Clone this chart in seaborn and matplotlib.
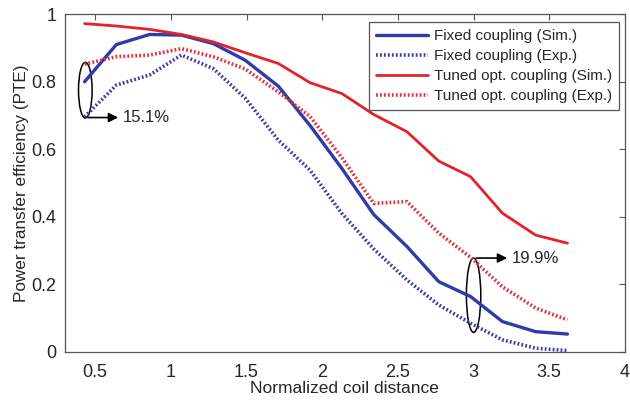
import matplotlib
matplotlib.use("Agg")
import matplotlib.pyplot as plt
from matplotlib.patches import Ellipse
import seaborn as sns
import pandas as pd

# Normalized coil distance samples
distance = [0.43, 0.64, 0.86, 1.07, 1.28, 1.49, 1.71, 1.92,
            2.13, 2.34, 2.56, 2.77, 2.98, 3.19, 3.41, 3.62]

fixed_sim = [0.800, 0.910, 0.940, 0.938, 0.913, 0.864, 0.787, 0.670,
             0.543, 0.407, 0.312, 0.208, 0.164, 0.090, 0.060, 0.053]
fixed_exp = [0.696, 0.790, 0.820, 0.879, 0.839, 0.752, 0.627, 0.538,
             0.410, 0.305, 0.213, 0.139, 0.085, 0.036, 0.011, 0.004]
tuned_sim = [0.972, 0.965, 0.955, 0.940, 0.918, 0.886, 0.854, 0.797,
             0.765, 0.703, 0.652, 0.565, 0.519, 0.411, 0.346, 0.322]
tuned_exp = [0.852, 0.874, 0.879, 0.898, 0.874, 0.838, 0.770, 0.697,
             0.575, 0.440, 0.445, 0.352, 0.280, 0.193, 0.130, 0.095]

labels = ["Fixed coupling (Sim.)", "Fixed coupling (Exp.)",
          "Tuned opt. coupling (Sim.)", "Tuned opt. coupling (Exp.)"]

x_ticks = [0.5, 1, 1.5, 2, 2.5, 3, 3.5, 4]
x_tick_labels = ["0.5", "1", "1.5", "2", "2.5", "3", "3.5", "4"]
y_ticks = [0, 0.2, 0.4, 0.6, 0.8, 1]
y_tick_labels = ["0", "0.2", "0.4", "0.6", "0.8", "1"]

sns.set_style("white")
plt.rcParams["font.family"] = ["Liberation Sans", "DejaVu Sans"]

fig = plt.figure(figsize=(6.3, 4.05), dpi=100)
ax = fig.add_axes([0.103, 0.131, 0.889, 0.834])

BLUE = "#2f3ca8"
BLUE_DOT = "#3a3ca6"
RED = "#e4222a"
RED_DOT = "#e2303a"
FINE_DOTS = (0, (0.5, 0.6))

series = [
    (fixed_sim, labels[0], BLUE, "-", 2.4),
    (fixed_exp, labels[1], BLUE_DOT, FINE_DOTS, 2.6),
    (tuned_sim, labels[2], RED, "-", 2.0),
    (tuned_exp, labels[3], RED_DOT, FINE_DOTS, 2.6),
]
for values, name, color, ls, lw in series:
    df = pd.DataFrame({"distance": distance, "pte": values})
    sns.lineplot(data=df, x="distance", y="pte", ax=ax, color=color,
                 linestyle=ls, linewidth=lw, label=name)

ax.set_xlim(0.3, 4)
ax.set_ylim(0, 1)
ax.set_xticks(x_ticks)
ax.set_xticklabels(x_tick_labels)
ax.set_yticks(y_ticks)
ax.set_yticklabels(y_tick_labels)
ax.tick_params(direction="in", length=4, width=0.8, top=True, right=True,
               labelsize=13, color="#555555")
ax.tick_params(axis="x", pad=9)
ax.tick_params(axis="y", pad=6)
ax.set_xlabel("Normalized coil distance", fontsize=12.5, labelpad=0)
ax.set_ylabel("Power transfer efficiency (PTE)", fontsize=12.3, labelpad=2)
for sp in ax.spines.values():
    sp.set_visible(True)
    sp.set_color("#555555")
    sp.set_linewidth(0.9)

leg = ax.legend(loc="upper right", fontsize=11, handlelength=3.4,
                borderpad=0.45, labelspacing=0.4, handletextpad=0.4,
                borderaxespad=0, fancybox=False, framealpha=1,
                bbox_to_anchor=(0.989, 0.976))
leg.get_frame().set_edgecolor("#555555")
leg.get_frame().set_linewidth(0.9)

# Gap markers: ellipse around the sim/exp pair and an arrow to the value
ax.add_patch(Ellipse((0.435, 0.775), 0.09, 0.165, fill=False,
                     edgecolor="black", linewidth=1.1))
ax.annotate("", xy=(0.67, 0.694), xytext=(0.435, 0.694),
            arrowprops=dict(arrowstyle="-|>", color="black", lw=1.2,
                            mutation_scale=14))
ax.text(0.68, 0.694, "15.1%", fontsize=12, va="center", ha="left")

ax.add_patch(Ellipse((3.0, 0.168), 0.095, 0.22, fill=False,
                     edgecolor="black", linewidth=1.1))
ax.annotate("", xy=(3.24, 0.278), xytext=(3.0, 0.278),
            arrowprops=dict(arrowstyle="-|>", color="black", lw=1.2,
                            mutation_scale=14))
ax.text(3.25, 0.278, "19.9%", fontsize=12, va="center", ha="left")

fig.savefig("out.png", dpi=100)
